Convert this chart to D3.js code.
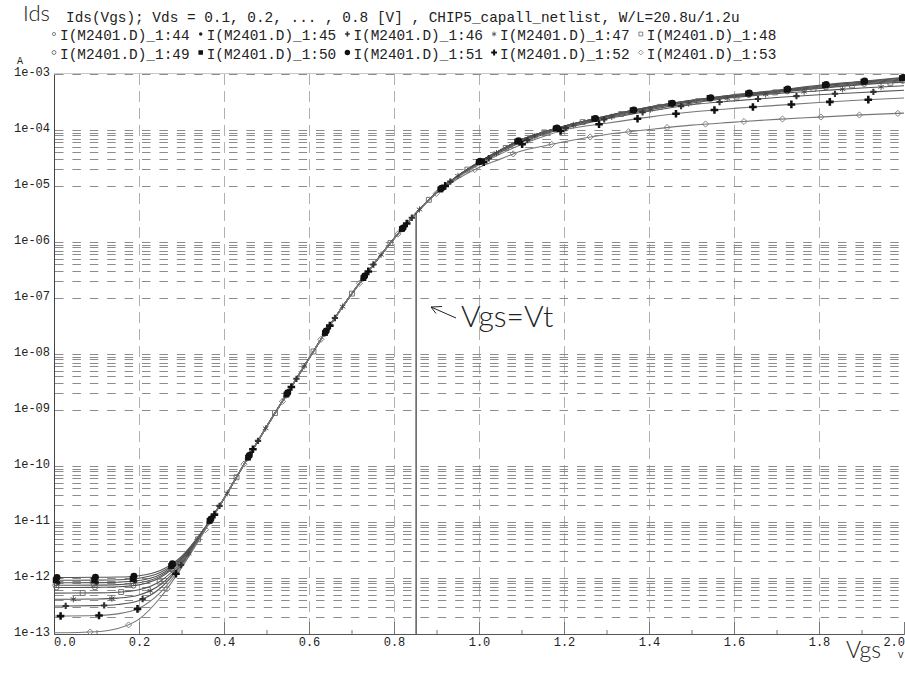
<!DOCTYPE html>
<html><head><meta charset="utf-8">
<script src="https://cdn.jsdelivr.net/npm/d3@7"></script>
<style>body{margin:0;background:#fff}svg{display:block}</style>
</head><body><svg id="c" width="905" height="673"></svg>
<script>
// ---- data ----
const vgs = [0,0.1,0.15,0.2,0.25,0.3,0.35,0.4,0.45,0.5,0.55,0.6,0.65,0.7,0.75,0.8,0.85,0.9,0.95,1.0,1.05,1.1,1.15,1.2,1.3,1.4,1.5,1.6,1.7,1.8,1.9,2.0];
const ids_44 = [7.41e-13,7.46e-13,7.61e-13,8.20e-13,1.08e-12,2.15e-12,6.77e-12, 2.63e-11,1.17e-10,5.01e-10,2.04e-9,8.32e-9,3.31e-8,1.17e-7,3.80e-7,1.15e-6,3.16e-6, 7.59e-6,1.51e-5,2.69e-5,4.37e-5,6.76e-5,9.12e-5,1.17e-4,1.76e-4,2.51e-4,3.31e-4,4.07e-4,4.84e-4,5.82e-4,6.84e-4,7.85e-4];
const ids_45 = [8.22e-13,8.27e-13,8.42e-13,9.01e-13,1.16e-12,2.24e-12,6.85e-12, 2.63e-11,1.17e-10,5.01e-10,2.04e-9,8.32e-9,3.31e-8,1.17e-7,3.80e-7,1.15e-6,3.16e-6, 7.59e-6,1.51e-5,2.69e-5,4.37e-5,6.76e-5,9.12e-5,1.17e-4,1.78e-4,2.54e-4,3.35e-4,4.17e-4,4.95e-4,6.03e-4,7.08e-4,8.13e-4];
const ids_46 = [3.16e-13,3.21e-13,3.36e-13,3.95e-13,6.55e-13,1.73e-12,6.35e-12, 2.63e-11,1.17e-10,5.01e-10,2.04e-9,8.32e-9,3.31e-8,1.17e-7,3.80e-7,1.15e-6,3.16e-6, 7.59e-6,1.48e-5,2.51e-5,3.98e-5,6.03e-5,8.22e-5,1.06e-4,1.58e-4,2.16e-4,2.82e-4,3.31e-4,3.80e-4,4.27e-4,4.68e-4,5.13e-4];
const ids_47 = [4.17e-13,4.22e-13,4.37e-13,4.96e-13,7.56e-13,1.83e-12,6.45e-12, 2.63e-11,1.17e-10,5.01e-10,2.04e-9,8.32e-9,3.31e-8,1.17e-7,3.80e-7,1.15e-6,3.16e-6, 7.59e-6,1.51e-5,2.57e-5,4.17e-5,6.31e-5,8.61e-5,1.11e-4,1.64e-4,2.29e-4,3.02e-4,3.80e-4,4.47e-4,5.01e-4,5.62e-4,6.17e-4];
const ids_48 = [5.37e-13,5.42e-13,5.57e-13,6.16e-13,8.76e-13,1.95e-12,6.57e-12, 2.63e-11,1.17e-10,5.01e-10,2.04e-9,8.32e-9,3.31e-8,1.17e-7,3.80e-7,1.15e-6,3.16e-6, 7.59e-6,1.51e-5,2.63e-5,4.27e-5,6.53e-5,8.91e-5,1.15e-4,1.70e-4,2.40e-4,3.16e-4,3.89e-4,4.73e-4,5.50e-4,6.46e-4,7.16e-4];
const ids_49 = [6.76e-13,6.81e-13,6.96e-13,7.55e-13,1.02e-12,2.09e-12,6.71e-12, 2.63e-11,1.17e-10,5.01e-10,2.04e-9,8.32e-9,3.31e-8,1.17e-7,3.80e-7,1.15e-6,3.16e-6, 7.59e-6,1.51e-5,2.69e-5,4.37e-5,6.76e-5,9.12e-5,1.16e-4,1.74e-4,2.48e-4,3.24e-4,3.98e-4,4.68e-4,5.62e-4,6.61e-4,7.59e-4];
const ids_50 = [9.12e-13,9.17e-13,9.32e-13,9.91e-13,1.25e-12,2.33e-12,6.94e-12, 2.63e-11,1.17e-10,5.01e-10,2.04e-9,8.32e-9,3.31e-8,1.17e-7,3.80e-7,1.15e-6,3.16e-6, 7.59e-6,1.51e-5,2.69e-5,4.37e-5,6.76e-5,9.12e-5,1.17e-4,1.78e-4,2.57e-4,3.39e-4,4.22e-4,5.01e-4,6.17e-4,7.24e-4,8.51e-4];
const ids_51 = [1.02e-12,1.03e-12,1.04e-12,1.10e-12,1.36e-12,2.44e-12,7.05e-12, 2.63e-11,1.17e-10,5.01e-10,2.04e-9,8.32e-9,3.31e-8,1.17e-7,3.80e-7,1.15e-6,3.16e-6, 7.59e-6,1.51e-5,2.69e-5,4.37e-5,6.76e-5,9.12e-5,1.17e-4,1.78e-4,2.57e-4,3.39e-4,4.27e-4,5.13e-4,6.31e-4,7.41e-4,8.71e-4];
const ids_52 = [2.09e-13,2.14e-13,2.29e-13,2.88e-13,5.48e-13,1.62e-12,6.24e-12, 2.63e-11,1.17e-10,5.01e-10,2.04e-9,8.32e-9,3.31e-8,1.17e-7,3.80e-7,1.15e-6,3.16e-6, 7.50e-6,1.43e-5,2.40e-5,3.72e-5,5.50e-5,7.59e-5,1.00e-4,1.32e-4,1.70e-4,2.09e-4,2.43e-4,2.75e-4,3.09e-4,3.43e-4,3.72e-4];
const ids_53 = [1.05e-13,1.10e-13,1.25e-13,1.84e-13,4.44e-13,1.52e-12,6.13e-12, 2.63e-11,1.17e-10,5.01e-10,2.04e-9,8.32e-9,3.31e-8,1.17e-7,3.80e-7,1.15e-6,3.16e-6, 7.41e-6,1.35e-5,2.14e-5,3.02e-5,4.22e-5,5.13e-5,6.17e-5,8.32e-5,1.02e-4,1.22e-4,1.38e-4,1.55e-4,1.70e-4,1.86e-4,2.00e-4];
const seriesNames = ["I(M2401.D)_1:44","I(M2401.D)_1:45","I(M2401.D)_1:46","I(M2401.D)_1:47","I(M2401.D)_1:48","I(M2401.D)_1:49","I(M2401.D)_1:50","I(M2401.D)_1:51","I(M2401.D)_1:52","I(M2401.D)_1:53"];
const seriesValues = [ids_44,ids_45,ids_46,ids_47,ids_48,ids_49,ids_50,ids_51,ids_52,ids_53];
const xTicks = [0,0.2,0.4,0.6,0.8,1.0,1.2,1.4,1.6,1.8,2.0];
const xMinorTicks = [0.1,0.3,0.5,0.7,0.9,1.1,1.3,1.5,1.7,1.9];
const yTickLabels = ["1e-13","1e-12","1e-11","1e-10","1e-09","1e-08","1e-07","1e-06","1e-05","1e-04","1e-03"];
const minorGridDecades = [1e-13, 1e-12, 1e-11, 1e-9, 1e-7, 1e-5];
const vtVgs = 0.852;
const titleText = "Ids(Vgs); Vds = 0.1, 0.2, ... , 0.8 [V] , CHIP5_capall_netlist, W/L=20.8u/1.2u";

// ---- styling ----
const MONO = "'Liberation Mono', 'Courier New', monospace";
const SANS = "Lato, 'Open Sans', sans-serif";
const sym = (a, b) => a || b;
const markerStyle = [
  {s: d3.symbolCircle, size: 13, fill: "none", stroke: "#666", off: 0.002},
  {s: d3.symbolCircle, size: 16, fill: "#222", stroke: "none", off: 0.010},
  {s: d3.symbolCross, size: 22, fill: "#333", stroke: "none", off: 0.0275},
  {s: sym(d3.symbolAsterisk, d3.symbolStar), size: 28, fill: "none", stroke: "#444", off: 0.0455},
  {s: d3.symbolSquare, size: 24, fill: "none", stroke: "#666", off: 0.0675},
  {s: d3.symbolCircle, size: 20, fill: "none", stroke: "#555", off: 0.006},
  {s: d3.symbolSquare, size: 34, fill: "#111", stroke: "none", off: 0.004},
  {s: d3.symbolCircle, size: 38, fill: "#111", stroke: "none", off: 0.007},
  {s: d3.symbolCross, size: 32, fill: "#111", stroke: "none", off: 0.0155},
  {s: sym(d3.symbolDiamond2, d3.symbolDiamond), size: 24, fill: "none", stroke: "#777", off: 0.085}
];
const markerStep = 0.0905;

const svg = d3.select("#c");
const x = d3.scaleLinear().domain([0, 2]).range([54, 904]);
const y = d3.scaleLog().domain([1e-13, 1e-3]).range([634, 74]);

// ---- grid ----
const grid = svg.append("g");
const hVals = [];
for (let e = -13; e <= -3; e++) hVals.push(Math.pow(10, e));
minorGridDecades.forEach(b => { for (let m = 2; m <= 9; m++) hVals.push(m * b); });
grid.append("line").attr("x1", x(0)).attr("x2", x(2)).attr("y1", Math.round(y(1e-3)) - 0.5).attr("y2", Math.round(y(1e-3)) - 0.5).attr("stroke", "#c8c8c8").attr("stroke-width", 1);
grid.selectAll("line.v").data(xTicks.slice(1, -1)).join("line").attr("class", "v")
  .attr("x1", d => Math.round(x(d)) + 0.5).attr("x2", d => Math.round(x(d)) + 0.5)
  .attr("y1", y(1e-3)).attr("y2", y(1e-13))
  .attr("stroke", "#b0b0b0").attr("stroke-width", 1).attr("stroke-dasharray", "11,6");
grid.selectAll("line.h").data(hVals).join("line").attr("class", "h")
  .attr("x1", x(0) + 1).attr("x2", x(2))
  .attr("y1", d => Math.round(y(d)) + 0.5).attr("y2", d => Math.round(y(d)) + 0.5)
  .attr("stroke", "#8c8c8c").attr("stroke-width", 1).attr("stroke-dasharray", "8.5,8.9");

// ---- axes ----
const xAxis = svg.append("g").attr("transform", `translate(0,${y(1e-13)})`)
  .call(d3.axisBottom(x).tickValues(xTicks).tickSize(-12).tickPadding(3).tickFormat(d3.format(".1f")));
xAxis.select(".domain").attr("stroke", "#555");
xAxis.selectAll(".tick line").attr("stroke", "#777");
xAxis.selectAll("text").attr("font-family", MONO).attr("font-size", 12).attr("fill", "#222")
  .attr("text-anchor", (d, i) => i === 0 ? "start" : (i === xTicks.length - 1 ? "end" : "middle"))
  .attr("x", (d, i) => i === 0 ? -0.5 : (i === xTicks.length - 1 ? 0.5 : 0));
const xMinor = svg.append("g").attr("transform", `translate(0,${y(1e-13)})`)
  .call(d3.axisBottom(x).tickValues(xMinorTicks).tickSize(-4).tickFormat(""));
xMinor.select(".domain").remove();
xMinor.selectAll(".tick line").attr("stroke", "#777");

const yAxis = svg.append("g").attr("transform", `translate(${x(0)},0)`)
  .call(d3.axisLeft(y).tickValues(yTickLabels.map(Number)).tickSize(0).tickPadding(4)
    .tickFormat((d, i) => yTickLabels[i]));
yAxis.select(".domain").attr("stroke", "#444");
yAxis.selectAll("text").attr("font-family", MONO).attr("font-size", 12).attr("fill", "#222").attr("dy", "0.1em");

// ---- curves ----
const line = d3.line().x((d, i) => x(vgs[i])).y(d => y(d)).curve(d3.curveMonotoneX);
const curveG = svg.append("g");
const paths = seriesValues.map((vals, k) =>
  curveG.append("path").datum(vals).attr("d", line).attr("fill", "none")
    .attr("stroke", k === 9 || k === 8 ? "#777" : "#555").attr("stroke-width", 1.1).node());

function lookup(node) {
  const L = node.getTotalLength(), pts = [];
  for (let l = 0; l <= L; l += 0.5) pts.push(node.getPointAtLength(l));
  return px => {
    let best = pts[0];
    for (const p of pts) { if (Math.abs(p.x - px) < Math.abs(best.x - px)) best = p; }
    return best.y;
  };
}

// Vgs = Vt line
const lk51 = lookup(paths[7]);
svg.append("line").attr("x1", x(vtVgs)).attr("x2", x(vtVgs)).attr("y1", lk51(x(vtVgs))).attr("y2", y(1e-13))
  .attr("stroke", "#333").attr("stroke-width", 1.2);

// markers
const markG = svg.append("g");
seriesValues.forEach((vals, k) => {
  const st = markerStyle[k];
  const lk = lookup(paths[k]);
  const pos = [];
  for (let v = st.off; v <= 2.0; v += markerStep) pos.push(v);
  markG.selectAll(null).data(pos).join("path")
    .attr("d", d3.symbol().type(st.s).size(st.size))
    .attr("transform", d => `translate(${x(d)},${lk(x(d))})`)
    .attr("fill", st.fill).attr("stroke", st.stroke).attr("stroke-width", 0.9);
});

// ---- texts ----
svg.append("text").attr("x", 23).attr("y", 21).attr("font-family", SANS).attr("font-size", 22)
  .attr("font-weight", 300).attr("fill", "#222").text("Ids");
svg.append("text").attr("x", 66).attr("y", 22).attr("font-family", MONO).attr("font-size", 14.4)
  .attr("fill", "#222").style("white-space", "pre").text(titleText);
svg.append("text").attr("x", 17).attr("y", 64).attr("font-family", MONO).attr("font-size", 10)
  .attr("fill", "#222").text("A");

// legend
const legG = svg.append("g");
seriesNames.forEach((name, k) => {
  const row = Math.floor(k / 5), col = k % 5;
  const tx = 60 + col * 146.7, ty = 40 + row * 18.5;
  const st = markerStyle[k];
  legG.append("path").attr("d", d3.symbol().type(st.s).size(st.size * 0.6))
    .attr("transform", `translate(${tx - 6},${ty - 6})`)
    .attr("fill", st.fill).attr("stroke", st.stroke).attr("stroke-width", 0.8);
  legG.append("text").attr("x", tx).attr("y", ty).attr("font-family", MONO).attr("font-size", 14.4)
    .attr("fill", "#222").text(name);
});

// annotation
const ann = svg.append("g").attr("stroke", "#222").attr("stroke-width", 1).attr("fill", "none");
ann.append("line").attr("x1", 456).attr("y1", 318).attr("x2", 431).attr("y2", 307);
ann.append("line").attr("x1", 431).attr("y1", 307).attr("x2", 442).attr("y2", 306.5);
ann.append("line").attr("x1", 431).attr("y1", 307).attr("x2", 436).attr("y2", 313.5);
svg.append("text").attr("x", 461).attr("y", 327).attr("font-family", SANS).attr("font-size", 30)
  .attr("font-weight", 300).attr("fill", "#222").text("Vgs=Vt");

svg.append("text").attr("x", 846).attr("y", 658).attr("font-family", SANS).attr("font-size", 23)
  .attr("font-weight", 300).attr("fill", "#222").text("Vgs");
svg.append("text").attr("x", 898).attr("y", 658).attr("font-family", MONO).attr("font-size", 9)
  .attr("fill", "#222").text("V");
</script></body></html>
